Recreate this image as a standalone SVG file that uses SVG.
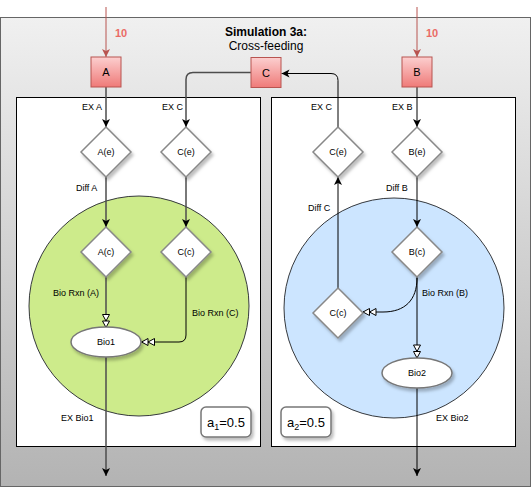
<svg xmlns="http://www.w3.org/2000/svg" width="532" height="488" viewBox="0 0 532 488">
<defs>
<linearGradient id="bg" x1="0" y1="0" x2="0" y2="1"><stop offset="0" stop-color="#f0f0f0"/><stop offset="1" stop-color="#b3b3b3"/></linearGradient>
<linearGradient id="red" x1="0" y1="0" x2="0" y2="1"><stop offset="0" stop-color="#fccfcf"/><stop offset="1" stop-color="#ef7a78"/></linearGradient>
<filter id="sh" x="-30%" y="-30%" width="160%" height="160%"><feDropShadow dx="2" dy="3" stdDeviation="1.5" flood-color="#000" flood-opacity="0.25"/></filter>
<marker id="arr" markerUnits="userSpaceOnUse" markerWidth="10" markerHeight="10" viewBox="0 0 10 10" refX="9" refY="5" orient="auto"><path d="M1,1 L9,5 L1,9 L3,5 Z" fill="#000" stroke="none"/></marker>
<marker id="arrR" markerUnits="userSpaceOnUse" markerWidth="10" markerHeight="10" viewBox="0 0 10 10" refX="9" refY="5" orient="auto"><path d="M1,1 L9,5 L1,9 L3,5 Z" fill="#b85450" stroke="none"/></marker>
<marker id="dbl" markerUnits="userSpaceOnUse" markerWidth="16" markerHeight="10" viewBox="0 0 16 10" refX="14.5" refY="5" orient="auto"><path d="M1.5,1.5 L8,5 L1.5,8.5 Z M8,1.5 L14.5,5 L8,8.5 Z" fill="#fff" stroke="#000" stroke-width="1"/></marker>
<style>
text{font-family:"Liberation Sans",Arial,Helvetica,sans-serif;fill:#000}
.lbl{font-size:9px}
.nl{font-size:9px;text-anchor:middle}
.c{fill:none;stroke:#000;stroke-width:1}
.cg{fill:none;stroke:#4d4d4d;stroke-width:1.5}
.cr{fill:none;stroke:#b85450;stroke-width:1}
.dia{fill:#fff;stroke:#888;stroke-width:1.5;filter:url(#sh)}
.ell{fill:#fff;stroke:#777;stroke-width:1.5;filter:url(#sh)}
.sq{fill:url(#red);stroke:#b85450;stroke-width:1}
.ab{fill:#fff;stroke:#777;stroke-width:1.5;filter:url(#sh)}
.ten{font-size:11px;font-weight:bold;fill:#ea6b66}
.a{font-size:13px;text-anchor:middle}
</style>
</defs>
<g id="background">
<rect x="0.5" y="17.5" width="530" height="469" fill="url(#bg)" stroke="#666"/>
<text x="266" y="36" font-size="12" font-weight="bold" text-anchor="middle">Simulation 3a:</text>
<text x="266" y="50" font-size="12" text-anchor="middle">Cross-feeding</text>
</g>
<g id="cell1">
<rect x="16.5" y="97.5" width="244" height="349" fill="#fff" stroke="#000"/>
<circle cx="139" cy="306" r="110" fill="#cdeb8b" stroke="#36393d"/>
</g>
<g id="cell2">
<rect x="271.5" y="97.5" width="244" height="349" fill="#fff" stroke="#000"/>
<circle cx="394" cy="308" r="110" fill="#cce5ff" stroke="#36393d"/>
</g>
<g id="connectors">
<path class="cr" d="M106,7 L106,57" marker-end="url(#arrR)"/>
<path class="cr" d="M417,7 L417,57" marker-end="url(#arrR)"/>
<path class="cg" d="M106,87 L106,127" marker-end="url(#arr)"/>
<path class="cg" d="M106,177 L106,227" marker-end="url(#arr)"/>
<path class="cg" d="M106,277 L106,327.5" marker-end="url(#dbl)"/>
<path class="cg" d="M106,357 L106,476" marker-end="url(#arr)"/>
<path class="cg" d="M251,72.5 L193,72.5 Q186,72.5 186,79.5 L186,127" marker-end="url(#arr)"/>
<path class="cg" d="M186,177 L186,227" marker-end="url(#arr)"/>
<path class="c" d="M186,277 L186,335 Q186,342 179,342 L141.5,342" marker-end="url(#dbl)"/>
<path class="c" d="M417,87 L417,127" marker-end="url(#arr)"/>
<path class="c" d="M417,177 L417,227" marker-end="url(#arr)"/>
<path class="c" d="M417,277 L417,358" marker-end="url(#dbl)"/>
<path class="c" d="M417,388 L417,476" marker-end="url(#arr)"/>
<path class="c" d="M417,278 C417,300 405,312 383,312 L363,312" marker-end="url(#dbl)"/>
<path class="c" d="M338,288 L338,177" marker-end="url(#arr)"/>
<path class="c" d="M338,127 L338,80.5 Q338,73.5 331,73.5 L281.5,73.5" marker-end="url(#arr)"/>
<text class="ten" x="115" y="37">10</text>
<text class="ten" x="426" y="37">10</text>
<text class="lbl" x="82" y="110">EX A</text>
<text class="lbl" x="162" y="110">EX C</text>
<text class="lbl" x="76" y="191">Diff A</text>
<text class="lbl" x="53" y="296">Bio Rxn (A)</text>
<text class="lbl" x="192" y="316">Bio Rxn (C)</text>
<text class="lbl" x="61" y="421">EX Bio1</text>
<text class="lbl" x="311" y="110">EX C</text>
<text class="lbl" x="392" y="110">EX B</text>
<text class="lbl" x="386" y="191">Diff B</text>
<text class="lbl" x="308" y="211">Diff C</text>
<text class="lbl" x="422" y="296">Bio Rxn (B)</text>
<text class="lbl" x="436" y="421">EX Bio2</text>
</g>
<g id="A"><rect class="sq" x="91" y="57" width="30" height="30"/><text x="106" y="76" font-size="11" text-anchor="middle">A</text></g>
<g id="C"><rect class="sq" x="251" y="57.5" width="30" height="30"/><text x="266" y="76.5" font-size="11" text-anchor="middle">C</text></g>
<g id="B"><rect class="sq" x="402" y="57" width="30" height="30"/><text x="417" y="76" font-size="11" text-anchor="middle">B</text></g>
<g id="Ae"><path class="dia" d="M106,127 L131,152 L106,177 L81,152 Z"/><text class="nl" x="106" y="155">A(e)</text></g>
<g id="Ce1"><path class="dia" d="M186,127 L211,152 L186,177 L161,152 Z"/><text class="nl" x="186" y="155">C(e)</text></g>
<g id="Ac"><path class="dia" d="M106,227 L131,252 L106,277 L81,252 Z"/><text class="nl" x="106" y="255">A(c)</text></g>
<g id="Cc1"><path class="dia" d="M186,227 L211,252 L186,277 L161,252 Z"/><text class="nl" x="186" y="255">C(c)</text></g>
<g id="Bio1"><ellipse class="ell" cx="106" cy="342" rx="35" ry="15"/><text class="nl" x="106" y="345">Bio1</text></g>
<g id="Ce2"><path class="dia" d="M338,127 L363,152 L338,177 L313,152 Z"/><text class="nl" x="338" y="155">C(e)</text></g>
<g id="Be"><path class="dia" d="M417,127 L442,152 L417,177 L392,152 Z"/><text class="nl" x="417" y="155">B(e)</text></g>
<g id="Bc"><path class="dia" d="M417,227 L442,252 L417,277 L392,252 Z"/><text class="nl" x="417" y="255">B(c)</text></g>
<g id="Cc2"><path class="dia" d="M338,288 L363,313 L338,338 L313,313 Z"/><text class="nl" x="338" y="316">C(c)</text></g>
<g id="Bio2"><ellipse class="ell" cx="417" cy="373" rx="35" ry="15"/><text class="nl" x="417" y="376">Bio2</text></g>
<g id="a1"><rect class="ab" x="201" y="407" width="50" height="30" rx="5"/><text class="a" x="226" y="427">a<tspan font-size="9" dy="3">1</tspan><tspan dy="-3">=0.5</tspan></text></g>
<g id="a2"><rect class="ab" x="281" y="407" width="50" height="30" rx="5"/><text class="a" x="306" y="427">a<tspan font-size="9" dy="3">2</tspan><tspan dy="-3">=0.5</tspan></text></g>
</svg>
